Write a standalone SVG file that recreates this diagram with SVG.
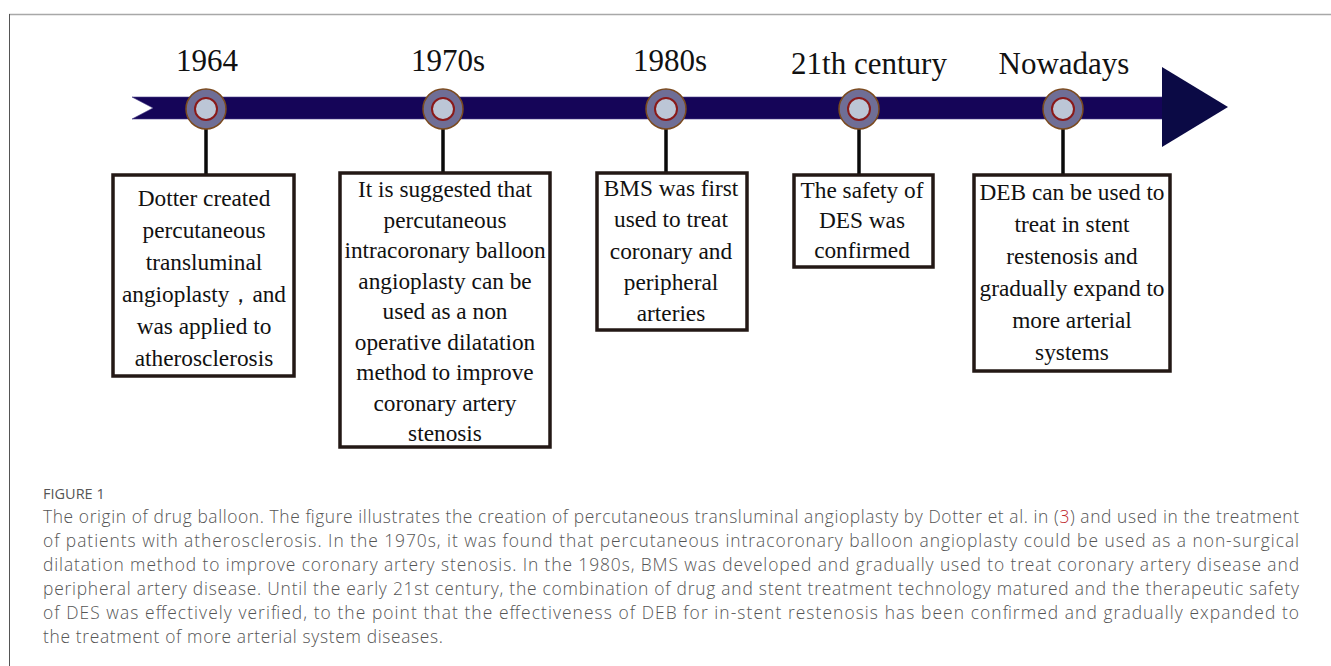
<svg xmlns="http://www.w3.org/2000/svg" width="1331" height="666" viewBox="0 0 1331 666">
<style>
.year{font-family:"Liberation Serif","Times New Roman",serif;font-size:31px;fill:#111;text-anchor:middle}
.box{fill:#fff;stroke:#231815;stroke-width:3.5}
.bt{font-family:"Liberation Serif","Times New Roman",serif;font-size:23.3px;fill:#111;text-anchor:middle}
.outer{fill:#6f6e96;stroke:#7b4a1e;stroke-width:1.5}
.inner{fill:#bcc6d6;stroke:#8a1a1a;stroke-width:2}
.stem{stroke:#0a0a0a;stroke-width:3.5}
.cap{font-family:"Open Sans","Noto Sans",sans-serif;font-weight:300;font-size:17.4px;fill:#555}
.fig{font-family:"Open Sans","Noto Sans",sans-serif;font-size:14.5px;fill:#555}
</style>
<rect width="1331" height="666" fill="#fff"/>
<line x1="9" y1="14.5" x2="1331" y2="14.5" stroke="#a8a8a8" stroke-width="1.5"/>
<line x1="9.5" y1="14" x2="9.5" y2="666" stroke="#555" stroke-width="1"/>

<g id="timeline">
<polygon points="132,97 1165,97 1165,119 132,119 153,108" fill="#150558" stroke="#4a3f8a" stroke-width="0.6"/>
<polygon points="1162,67 1228,107 1162,147" fill="#0b0a45"/>
</g>

<g id="connectors">
<line class="stem" x1="206" y1="128" x2="206" y2="174"/>
<line class="stem" x1="443" y1="128" x2="443" y2="172"/>
<line class="stem" x1="666" y1="128" x2="666" y2="172"/>
<line class="stem" x1="859" y1="128" x2="859" y2="174"/>
<line class="stem" x1="1063" y1="128" x2="1063" y2="174"/>
</g>

<g id="node-1964">
<text class="year" x="207" y="71">1964</text>
<circle class="outer" cx="206" cy="109" r="20"/>
<circle class="inner" cx="206" cy="109" r="11"/>
<rect class="box" x="113" y="175" width="181" height="201"/>
<text class="bt" x="204" y="206">Dotter created</text>
<text class="bt" x="204" y="238">percutaneous</text>
<text class="bt" x="204" y="270">transluminal</text>
<text class="bt" x="204" y="302">angioplasty，and</text>
<text class="bt" x="204" y="334">was applied to</text>
<text class="bt" x="204" y="366">atherosclerosis</text>
</g>

<g id="node-1970s">
<text class="year" x="448" y="71">1970s</text>
<circle class="outer" cx="443" cy="109" r="20"/>
<circle class="inner" cx="443" cy="109" r="11"/>
<rect class="box" x="340" y="173" width="210" height="274"/>
<text class="bt" x="445" y="197">It is suggested that</text>
<text class="bt" x="445" y="228">percutaneous</text>
<text class="bt" x="445" y="258">intracoronary balloon</text>
<text class="bt" x="445" y="289">angioplasty can be</text>
<text class="bt" x="445" y="319">used as a non</text>
<text class="bt" x="445" y="350">operative dilatation</text>
<text class="bt" x="445" y="380">method to improve</text>
<text class="bt" x="445" y="411">coronary artery</text>
<text class="bt" x="445" y="441">stenosis</text>
</g>

<g id="node-1980s">
<text class="year" x="670" y="71">1980s</text>
<circle class="outer" cx="666" cy="109" r="20"/>
<circle class="inner" cx="666" cy="109" r="11"/>
<rect class="box" x="597" y="173" width="150" height="157"/>
<text class="bt" x="671" y="196">BMS was first</text>
<text class="bt" x="671" y="227">used to treat</text>
<text class="bt" x="671" y="259">coronary and</text>
<text class="bt" x="671" y="290">peripheral</text>
<text class="bt" x="671" y="321">arteries</text>
</g>

<g id="node-21th">
<text class="year" x="869" y="74">21th century</text>
<circle class="outer" cx="859" cy="109" r="20"/>
<circle class="inner" cx="859" cy="109" r="11"/>
<rect class="box" x="794" y="175" width="139" height="92"/>
<text class="bt" x="862" y="198">The safety of</text>
<text class="bt" x="862" y="228">DES was</text>
<text class="bt" x="862" y="258">confirmed</text>
</g>

<g id="node-nowadays">
<text class="year" x="1064" y="74">Nowadays</text>
<circle class="outer" cx="1063" cy="109" r="20"/>
<circle class="inner" cx="1063" cy="109" r="11"/>
<rect class="box" x="974" y="175" width="196" height="196"/>
<text class="bt" x="1072" y="200">DEB can be used to</text>
<text class="bt" x="1072" y="232">treat in stent</text>
<text class="bt" x="1072" y="264">restenosis and</text>
<text class="bt" x="1072" y="296">gradually expand to</text>
<text class="bt" x="1072" y="328">more arterial</text>
<text class="bt" x="1072" y="360">systems</text>
</g>

<g id="caption">
<text class="fig" x="43" y="499">FIGURE 1</text>
<text class="cap" x="43" y="523" textLength="1256" lengthAdjust="spacing">The origin of drug balloon. The figure illustrates the creation of percutaneous transluminal angioplasty by Dotter et al. in (<tspan fill="#c0282d">3</tspan>) and used in the treatment</text>
<text class="cap" x="43" y="547" textLength="1256" lengthAdjust="spacing">of patients with atherosclerosis. In the 1970s, it was found that percutaneous intracoronary balloon angioplasty could be used as a non-surgical</text>
<text class="cap" x="43" y="571" textLength="1256" lengthAdjust="spacing">dilatation method to improve coronary artery stenosis. In the 1980s, BMS was developed and gradually used to treat coronary artery disease and</text>
<text class="cap" x="43" y="595" textLength="1256" lengthAdjust="spacing">peripheral artery disease. Until the early 21st century, the combination of drug and stent treatment technology matured and the therapeutic safety</text>
<text class="cap" x="43" y="619" textLength="1256" lengthAdjust="spacing">of DES was effectively verified, to the point that the effectiveness of DEB for in-stent restenosis has been confirmed and gradually expanded to</text>
<text class="cap" x="43" y="643" textLength="400" lengthAdjust="spacing">the treatment of more arterial system diseases.</text>
</g>
</svg>
